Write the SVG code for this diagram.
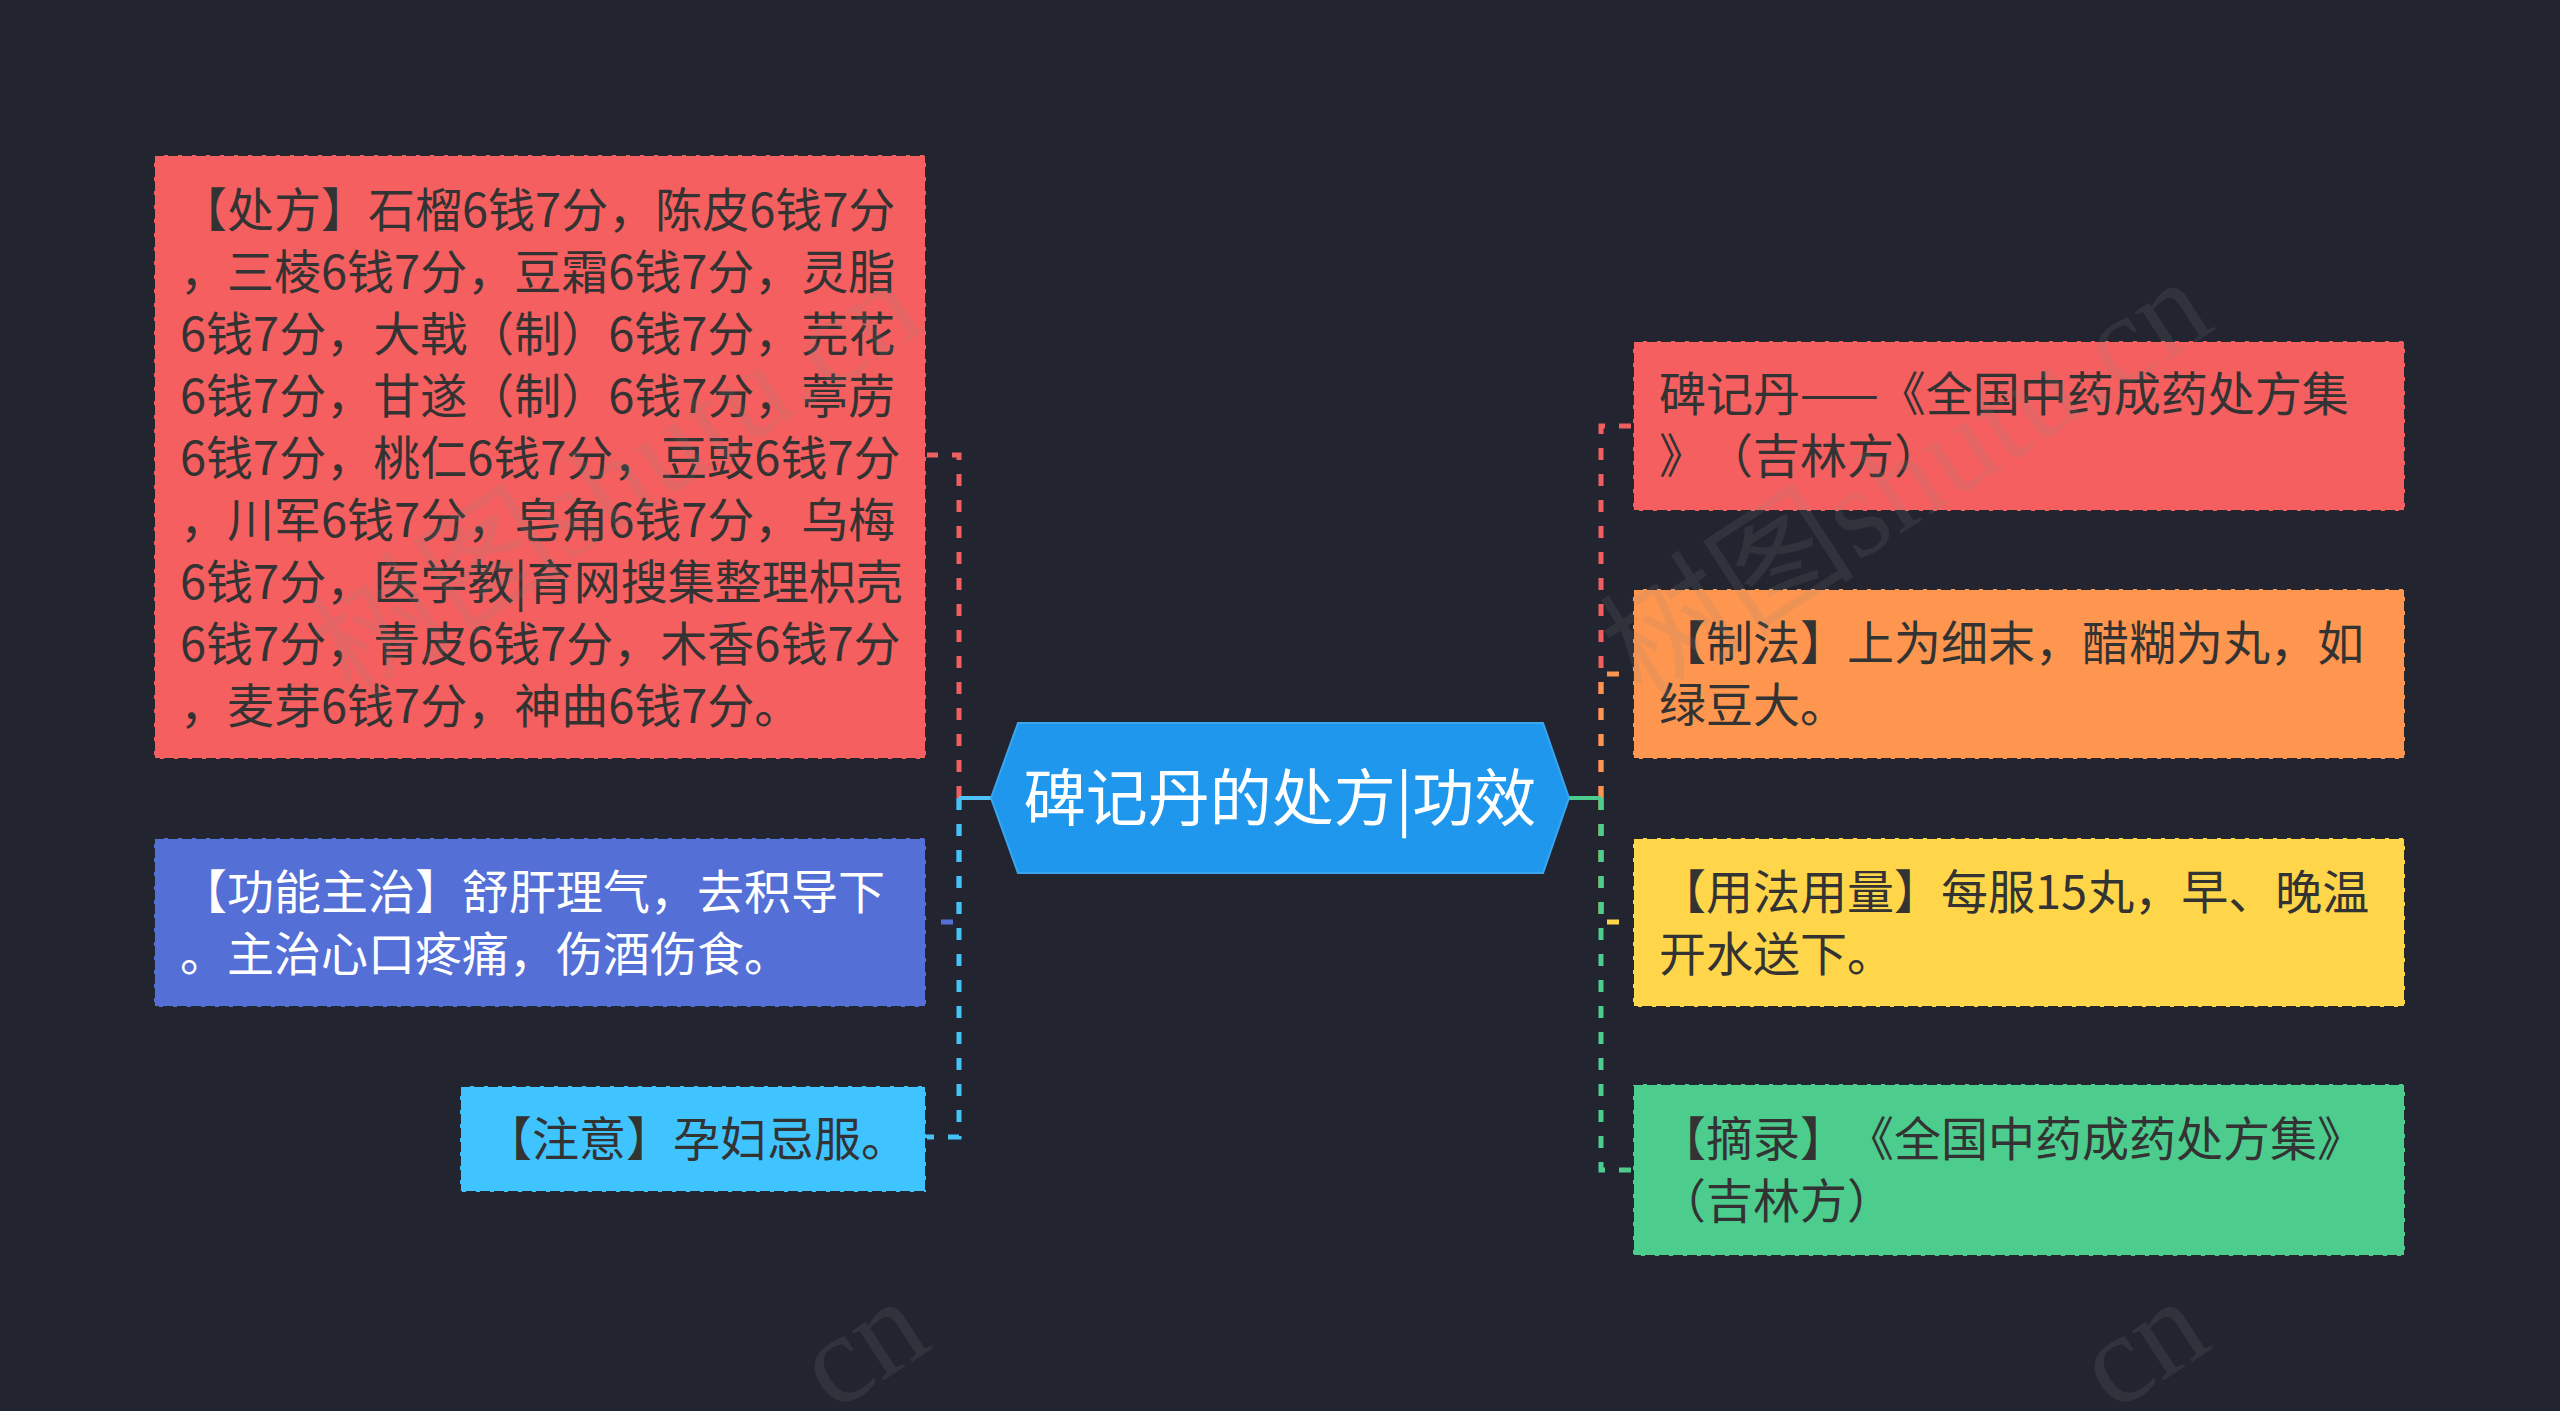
<svg xmlns="http://www.w3.org/2000/svg" width="2560" height="1411" viewBox="0 0 2560 1411">
<defs>
<style>
.bg{fill:#222530}
.box{stroke:#23262f;stroke-width:2;stroke-dasharray:10 4}
.t{font-family:"Noto Sans CJK SC","Noto Sans",sans-serif;font-size:47px;fill:#333333;text-spacing-trim:space-all;font-feature-settings:"halt" 0,"chws" 0}
.w{fill:#ffffff}
.ct{font-family:"Noto Sans CJK SC","Noto Sans",sans-serif;font-size:62px;fill:#ffffff;text-anchor:middle}
.dash{fill:none;stroke-width:5;stroke-dasharray:12 14}
.solid{fill:none;stroke-width:4}
.wm{font-family:"Liberation Serif","Noto Sans CJK SC",serif;font-size:128px;fill:#8a8a8a;fill-opacity:0.14;text-anchor:middle}
</style>
</defs>
<rect class="bg" x="0" y="0" width="2560" height="1411"/>

<g id="connectors">
  <path class="dash" stroke="#f05f60" d="M959,798 V455 H926"/>
  <path class="dash" stroke="#5470d6" d="M959,798 V922 H926"/>
  <path class="dash" stroke="#44c2f5" d="M959,798 V1137 H926"/>
  <path class="solid" stroke="#4fc3f7" d="M991,798 H959"/>
  <path class="dash" stroke="#f05f60" d="M1601,798 V426 H1633"/>
  <path class="dash" stroke="#fb9650" d="M1601,798 V674 H1633"/>
  <path class="dash" stroke="#ffd54a" d="M1601,798 V922 H1633"/>
  <path class="dash" stroke="#4ccd8e" d="M1601,798 V1170 H1633"/>
  <path class="solid" stroke="#4ccd8e" d="M1569,798 H1601"/>
</g>

<g id="root">
  <polygon points="991,798 1018,723 1543,723 1569,798 1543,873 1018,873" fill="#1e97ec" stroke="#3aa6ef" stroke-width="2"/>
  <text class="ct" x="1280" y="821">碑记丹的处方|功效</text>
</g>

<g id="node-chufang">
  <rect class="box" x="154" y="155" width="772" height="604" fill="#f55f5f"/>
  <text class="t">
    <tspan x="180" y="227">【处方】石榴6钱7分，陈皮6钱7分</tspan>
    <tspan x="180" y="289">，三棱6钱7分，豆霜6钱7分，灵脂</tspan>
    <tspan x="180" y="351">6钱7分，大戟（制）6钱7分，芫花</tspan>
    <tspan x="180" y="413">6钱7分，甘遂（制）6钱7分，葶苈</tspan>
    <tspan x="180" y="475">6钱7分，桃仁6钱7分，豆豉6钱7分</tspan>
    <tspan x="180" y="537">，川军6钱7分，皂角6钱7分，乌梅</tspan>
    <tspan x="180" y="599">6钱7分，医学教|育网搜集整理枳壳</tspan>
    <tspan x="180" y="661">6钱7分，青皮6钱7分，木香6钱7分</tspan>
    <tspan x="180" y="723">，麦芽6钱7分，神曲6钱7分。</tspan>
  </text>
</g>

<g id="node-gongneng">
  <rect class="box" x="154" y="838" width="772" height="169" fill="#5470d6"/>
  <text class="t w">
    <tspan x="180" y="909">【功能主治】舒肝理气，去积导下</tspan>
    <tspan x="180" y="971">。主治心口疼痛，伤酒伤食。</tspan>
  </text>
</g>

<g id="node-zhuyi">
  <rect class="box" x="460" y="1086" width="466" height="106" fill="#40c4ff"/>
  <text class="t"><tspan x="485" y="1156">【注意】孕妇忌服。</tspan></text>
</g>

<g id="node-title">
  <rect class="box" x="1633" y="341" width="772" height="170" fill="#f55f5f"/>
  <text class="t">
    <tspan x="1659" y="411">碑记丹——《全国中药成药处方集</tspan>
    <tspan x="1659" y="473">》（吉林方）</tspan>
  </text>
</g>

<g id="node-zhifa">
  <rect class="box" x="1633" y="589" width="772" height="170" fill="#fe964f"/>
  <text class="t">
    <tspan x="1659" y="660">【制法】上为细末，醋糊为丸，如</tspan>
    <tspan x="1659" y="722">绿豆大。</tspan>
  </text>
</g>

<g id="node-yongfa">
  <rect class="box" x="1633" y="838" width="772" height="169" fill="#ffd64a"/>
  <text class="t">
    <tspan x="1659" y="909">【用法用量】每服15丸，早、晚温</tspan>
    <tspan x="1659" y="971">开水送下。</tspan>
  </text>
</g>

<g id="node-zhailu">
  <rect class="box" x="1633" y="1084" width="772" height="172" fill="#4ccd8e"/>
  <text class="t">
    <tspan x="1659" y="1156">【摘录】《全国中药成药处方集》</tspan>
    <tspan x="1659" y="1218">（吉林方）</tspan>
  </text>
</g>

<g id="watermark">
  <text class="wm" transform="translate(640,515) rotate(-33)">树图shutu.cn</text>
  <text class="wm" transform="translate(1930,515) rotate(-33)">树图shutu.cn</text>
  <text class="wm" transform="translate(884,1380) rotate(-33)">cn</text>
  <text class="wm" transform="translate(2164,1380) rotate(-33)">cn</text>
</g>
</svg>
